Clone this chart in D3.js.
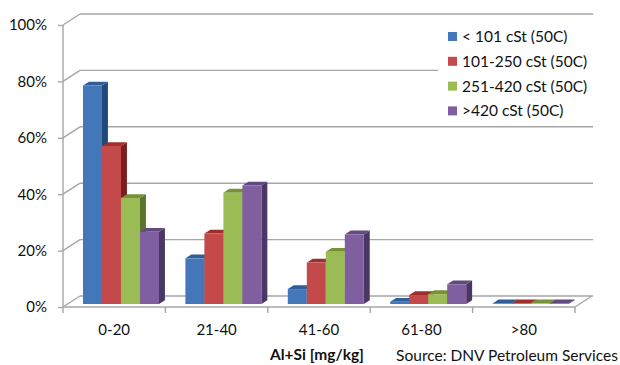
<!DOCTYPE html>
<html><head><meta charset="utf-8">
<script src="https://cdn.jsdelivr.net/npm/d3@7/dist/d3.min.js"></script>
<style>body{margin:0;background:#fff}svg{display:block}</style></head>
<body>
<svg id="c" width="620" height="365"></svg>
<script>
const categories = ["0-20", "21-40", "41-60", "61-80", ">80"];
const seriesNames = ["< 101 cSt (50C)", "101-250 cSt (50C)", "251-420 cSt (50C)", ">420 cSt (50C)"];
const seriesLow = [77.5, 16.2, 5.3, 0.8, 0.2];
const seriesMid = [56, 25, 14.7, 3.2, 0.2];
const seriesHigh = [37.6, 39.5, 18.5, 3.5, 0.2];
const seriesVHigh = [25.6, 42, 24.7, 7, 0.2];
const yTicks = [0, 20, 40, 60, 80, 100];
const xTitle = "Al+Si [mg/kg]";
const sourceText = "Source: DNV Petroleum Services";

const allSeries = [seriesLow, seriesMid, seriesHigh, seriesVHigh];
const colors = [
  {front: "#4477BA", top: "#2F5F98", side: "#1F4A78"},
  {front: "#C4494A", top: "#9F2F2E", side: "#7A1F1E"},
  {front: "#9BBB55", top: "#76933A", side: "#5C742B"},
  {front: "#7F5FA0", top: "#604A7E", side: "#4A3766"}
];

const svg = d3.select("#c");
const font = "Lato, 'Liberation Sans', Arial, sans-serif";
const DX = 17, DY = -11;
const y = d3.scaleLinear().domain([0, 100]).range([307, 25]);
const x = d3.scaleBand().domain(categories).range([63, 575]).padding(0);
const inner = d3.scaleBand().domain(seriesNames).range([15.4, 91.4]).padding(0);
const P = (xf, v, z) => [xf + z * DX, y(v) + z * DY];
const gridColor = "#A6A6A6";

// walls gridlines
const grid = svg.append("g");
yTicks.forEach(t => {
  const a = P(63, t, 0), b = P(63, t, 1), c = P(575, t, 1);
  grid.append("line").attr("x1", a[0]).attr("y1", a[1]).attr("x2", b[0]).attr("y2", b[1])
    .attr("stroke", gridColor).attr("stroke-width", 1.4);
  grid.append("line").attr("x1", b[0]).attr("y1", b[1]).attr("x2", c[0] + 1).attr("y2", c[1])
    .attr("stroke", gridColor).attr("stroke-width", 1.4);
});
// floor right edge
{
  const a = P(575, 0, 0), b = P(575, 0, 1);
  grid.append("line").attr("x1", a[0]).attr("y1", a[1]).attr("x2", b[0]).attr("y2", b[1])
    .attr("stroke", gridColor).attr("stroke-width", 1.4);
}

// bars
const z0 = 0.27, z1 = 0.62;
const bars = svg.append("g");
categories.forEach((cat, ci) => {
  seriesNames.forEach((s, si) => {
    const v = allSeries[si][ci];
    const x0 = x(cat) + inner(s), x1 = x0 + inner.bandwidth();
    const col = colors[si];
    const poly = pts => pts.map(p => p.join(",")).join(" ");
    bars.append("polygon").attr("points", poly([P(x1, 0, z0), P(x1, v, z0), P(x1, v, z1), P(x1, 0, z1)]))
      .attr("fill", col.side);
    bars.append("polygon").attr("points", poly([P(x0, v, z0), P(x1, v, z0), P(x1, v, z1), P(x0, v, z1)]))
      .attr("fill", col.top);
    bars.append("polygon").attr("points", poly([P(x0, 0, z0), P(x1, 0, z0), P(x1, v, z0), P(x0, v, z0)]))
      .attr("fill", col.front);
  });
});

// Y axis
const yAxis = svg.append("g").attr("transform", "translate(63,0)")
  .call(d3.axisLeft(y).tickValues(yTicks).tickFormat(d => d + "%").tickSize(5).tickPadding(11));
yAxis.select(".domain").attr("stroke", gridColor).attr("stroke-width", 1.4).attr("d", "M0,25V307");
yAxis.selectAll(".tick line").attr("stroke", gridColor).attr("stroke-width", 1.4);
yAxis.selectAll("text").attr("font-family", font).attr("font-size", 15).attr("fill", "#111");

// X axis
const xAxis = svg.append("g").attr("transform", "translate(0,307)")
  .call(d3.axisBottom(x).tickSize(0).tickPadding(17));
xAxis.select(".domain").attr("stroke", gridColor).attr("stroke-width", 1.4).attr("d", "M63,0H575");
xAxis.selectAll("text").attr("font-family", font).attr("font-size", 15).attr("fill", "#111");
const bounds = [63].concat(categories.map(c => x(c) + x.bandwidth()));
xAxis.selectAll(".bt").data(bounds).enter().append("line")
  .attr("x1", d => d).attr("x2", d => d).attr("y1", 0).attr("y2", 6)
  .attr("stroke", gridColor).attr("stroke-width", 1.4);

// titles
svg.append("text").attr("x", 317).attr("y", 360).attr("text-anchor", "middle")
  .attr("font-family", font).attr("font-size", 15.5).attr("font-weight", "bold").attr("fill", "#111")
  .text(xTitle);
svg.append("text").attr("x", 618).attr("y", 361).attr("text-anchor", "end")
  .attr("font-family", font).attr("font-size", 15.5).attr("fill", "#111")
  .text(sourceText);

// legend
const lg = svg.append("g");
lg.append("rect").attr("x", 438).attr("y", 16).attr("width", 157).attr("height", 108).attr("fill", "#fff");
seriesNames.forEach((s, i) => {
  const cy = 36.5 + i * 24.8;
  lg.append("rect").attr("x", 448).attr("y", cy - 4.5).attr("width", 9).attr("height", 9).attr("fill", colors[i].front);
  lg.append("text").attr("x", 462).attr("y", cy).attr("dy", "0.35em")
    .attr("font-family", font).attr("font-size", 15.5).attr("fill", "#111").text(s);
});
</script>
</body></html>
